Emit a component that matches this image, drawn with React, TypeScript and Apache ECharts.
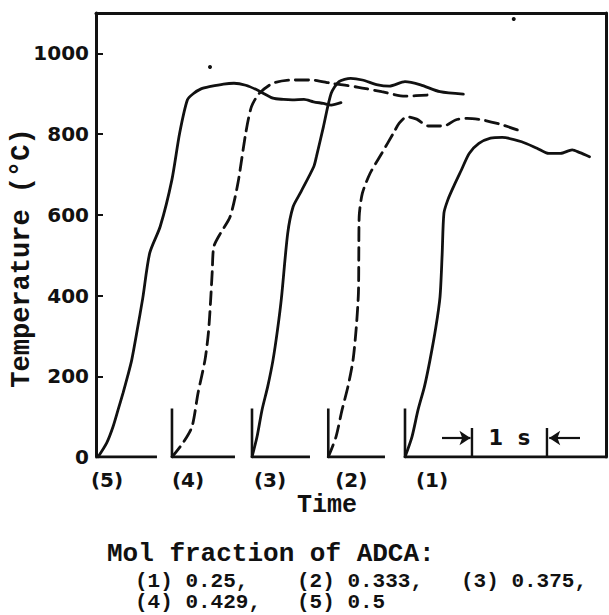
import React, { useEffect, useRef } from "react";
import * as echarts from "echarts";

// ---------- data ----------
const Y_TICKS = [0, 200, 400, 600, 800, 1000];
const CURVE_LABELS = ["(1)", "(2)", "(3)", "(4)", "(5)"];
const MOL_FRACTIONS = ["0.25", "0.333", "0.375", "0.429", "0.5"];
// time (s) where each trace starts, on the shared time axis
const CURVE_ORIGINS = [4.12, 3.097, 2.08, 1.013, 0.027];
// end of each trace's own zero line (s)
const BASELINE_ENDS = [6.8, 3.853, 2.853, 1.853, 0.813];
const START_MARK_TEMP = 120; // height of the start marker (°C)
const SCALE_BAR_START = 5.013; // s
const SCALE_BAR_LENGTH = 1; // s  ("1 s")
const SCALE_BAR_TICK_TEMP = 72;
const SCALE_BAR_ARROW_TEMP = 47;
// two specks of ink on the original figure
const SPECKS = [
  [1.52, 966],
  [5.57, 1085],
];

const curve1 = [
  [4.12, 0], [4.213, 50], [4.293, 116], [4.38, 175], [4.453, 240], [4.53, 320], [4.587, 397],
  [4.615, 500], [4.639, 604], [4.691, 637], [4.768, 670], [4.872, 711], [4.976, 752],
  [5.105, 777], [5.26, 790], [5.416, 792], [5.675, 781], [5.88, 765], [6.037, 752],
  [6.193, 752], [6.349, 761], [6.452, 754], [6.58, 744],
];
const curve2 = [
  [3.097, 0], [3.2, 50], [3.28, 116], [3.36, 175], [3.427, 240], [3.47, 320], [3.499, 406],
  [3.504, 500], [3.509, 595], [3.551, 653], [3.655, 703], [3.809, 752], [3.965, 802],
  [4.043, 827], [4.146, 843], [4.276, 837], [4.432, 820], [4.639, 820], [4.794, 835],
  [4.949, 839], [5.157, 835], [5.416, 823], [5.623, 810],
];
const curve3 = [
  [2.08, 0], [2.147, 50], [2.213, 116], [2.29, 175], [2.36, 240], [2.42, 315], [2.472, 393],
  [2.556, 554], [2.628, 620], [2.721, 653], [2.903, 719], [2.939, 744], [3.032, 818],
  [3.136, 901], [3.24, 930], [3.395, 938], [3.551, 934], [3.757, 922], [3.913, 919],
  [4.12, 930], [4.328, 922], [4.587, 905], [4.898, 899],
];
const curve4 = [
  [1.013, 0], [1.16, 35], [1.28, 75], [1.36, 158], [1.453, 240], [1.5, 310], [1.529, 390],
  [1.55, 460], [1.571, 521], [1.659, 554], [1.788, 595], [1.892, 678], [1.996, 802],
  [2.073, 868], [2.177, 901], [2.359, 926], [2.617, 934], [2.877, 934], [3.136, 926],
  [3.499, 916], [3.809, 905], [4.12, 894], [4.432, 897],
];
const curve5 = [
  [0.027, 0], [0.143, 35], [0.227, 75], [0.293, 116], [0.36, 158], [0.42, 199], [0.476, 240],
  [0.55, 315], [0.623, 393], [0.716, 505], [0.856, 571], [1.011, 686], [1.115, 802],
  [1.219, 885], [1.296, 900], [1.4, 912], [1.529, 918], [1.7, 924], [1.84, 926],
  [1.996, 921], [2.151, 909], [2.359, 889], [2.5, 886], [2.617, 885], [2.773, 886],
  [2.9, 880], [3.032, 876], [3.136, 872], [3.266, 878],
];
const CURVES = [curve1, curve2, curve3, curve4, curve5];

// ---------- styles ----------
const INK = "#111";
const DASHED = [false, true, false, true, false];
const LABEL_DX = [27, 23, 18, 16, 9];
const MONO = "'Liberation Mono', 'DejaVu Sans Mono', monospace";
const SANS = "'DejaVu Sans', sans-serif";

export default function App() {
  const ref = useRef<HTMLDivElement>(null);

  useEffect(() => {
    document.body.style.margin = "0";
    const chart = echarts.init(ref.current!, null, { renderer: "svg" });

    const curveSeries = CURVES.map((data, i) => ({
      type: "line",
      name: CURVE_LABELS[i],
      data,
      symbol: "none",
      smooth: 0.25,
      lineStyle: {
        color: INK,
        width: 2.8,
        type: DASHED[i] ? [13, 7] : "solid",
        cap: "round",
      },
      z: 3,
    }));

    const baselineSeries = CURVE_ORIGINS.map((o, i) => ({
      type: "line",
      data: [
        [o, 0],
        [BASELINE_ENDS[i], 0],
      ],
      symbol: "none",
      lineStyle: { color: INK, width: 3 },
      z: 2,
    }));

    const startMarkSeries = CURVE_ORIGINS.slice(0, 4).map((o) => ({
      type: "line",
      data: [
        [o, 0],
        [o, START_MARK_TEMP],
      ],
      symbol: "none",
      lineStyle: { color: INK, width: 2.6 },
      z: 2,
    }));

    const sbEnd = SCALE_BAR_START + SCALE_BAR_LENGTH;
    const scaleTicks = [SCALE_BAR_START, sbEnd].map((t) => ({
      type: "line",
      data: [
        [t, 0],
        [t, SCALE_BAR_TICK_TEMP],
      ],
      symbol: "none",
      lineStyle: { color: INK, width: 2.4 },
      z: 2,
    }));

    const scaleBarSeries = {
      type: "scatter",
      data: [[(SCALE_BAR_START + sbEnd) / 2, SCALE_BAR_ARROW_TEMP]],
      symbolSize: 0,
      itemStyle: { opacity: 1 },
      label: {
        show: true,
        position: "inside",
        formatter: `${SCALE_BAR_LENGTH}  s`,
        color: INK,
        opacity: 1,
        fontFamily: SANS,
        fontWeight: "bold",
        fontSize: 21,
      },
      markLine: {
        silent: true,
        symbol: ["none", "arrow"],
        symbolSize: [11, 11],
        lineStyle: { color: INK, width: 2.2, type: "solid", opacity: 1 },
        label: { show: false },
        data: [
          [
            { coord: [SCALE_BAR_START - 0.4, SCALE_BAR_ARROW_TEMP] },
            { coord: [SCALE_BAR_START - 0.02, SCALE_BAR_ARROW_TEMP] },
          ],
          [
            { coord: [sbEnd + 0.44, SCALE_BAR_ARROW_TEMP] },
            { coord: [sbEnd + 0.03, SCALE_BAR_ARROW_TEMP] },
          ],
        ],
      },
      z: 4,
    };

    const curveLabelSeries = {
      type: "scatter",
      data: CURVE_ORIGINS.map((o, i) => ({
        value: [o, 0],
        label: { offset: [LABEL_DX[i], 23], formatter: CURVE_LABELS[i] },
      })),
      symbolSize: 0,
      itemStyle: { opacity: 1 },
      label: {
        show: true,
        position: "inside",
        color: INK,
        opacity: 1,
        fontFamily: SANS,
        fontWeight: "bold",
        fontSize: 20,
      },
      z: 4,
    };

    const speckSeries = {
      type: "scatter",
      data: SPECKS,
      symbolSize: 4,
      itemStyle: { color: INK, opacity: 1 },
      z: 4,
    };

    const molItems = CURVE_LABELS.map(
      (l, i) => `${l} ${MOL_FRACTIONS[i]}${i < CURVE_LABELS.length - 1 ? "," : ""}`
    );
    const molPos = [
      [135, 581],
      [297, 581],
      [461, 581],
      [135, 602],
      [297, 602],
    ];

    const textStyle = (size: number) => ({
      fill: INK,
      fontFamily: MONO,
      fontWeight: "bold",
      fontSize: size,
      lineHeight: size,
    });

    const option = {
      animation: false,
      grid: { left: 96, right: 3, top: 13, bottom: 158 },
      xAxis: [
        {
          type: "value",
          min: 0,
          max: 6.8,
          position: "bottom",
          axisLine: { show: false },
          axisTick: { show: false },
          axisLabel: { show: false },
          splitLine: { show: false },
        },
        {
          type: "value",
          min: 0,
          max: 6.8,
          position: "top",
          axisLine: { show: true, onZero: false, lineStyle: { color: INK, width: 3 } },
          axisTick: { show: false },
          axisLabel: { show: false },
          splitLine: { show: false },
        },
      ],
      yAxis: [
        {
          type: "value",
          min: 0,
          max: 1100,
          interval: 200,
          position: "left",
          axisLine: { show: true, onZero: false, lineStyle: { color: INK, width: 3 } },
          axisTick: {
            show: true,
            inside: true,
            length: 7,
            customValues: Y_TICKS,
            lineStyle: { color: INK, width: 2 },
          },
          axisLabel: {
            customValues: Y_TICKS,
            formatter: (v: number) => (Y_TICKS.includes(v) ? String(v) : ""),
            color: INK,
            fontFamily: SANS,
            fontWeight: "bold",
            fontSize: 20,
            margin: 7,
          },
          splitLine: { show: false },
        },
        {
          type: "value",
          min: 0,
          max: 1100,
          position: "right",
          axisLine: { show: true, onZero: false, lineStyle: { color: INK, width: 3 } },
          axisTick: { show: false },
          axisLabel: { show: false },
          splitLine: { show: false },
        },
      ],
      series: [
        ...baselineSeries,
        ...startMarkSeries,
        ...scaleTicks,
        ...curveSeries,
        scaleBarSeries,
        curveLabelSeries,
        speckSeries,
      ],
      graphic: [
        {
          type: "text",
          x: 22,
          y: 258,
          rotation: Math.PI / 2,
          style: {
            text: "Temperature (°C)",
            align: "center",
            verticalAlign: "middle",
            ...textStyle(27),
          },
        },
        {
          type: "text",
          x: 327,
          y: 505,
          style: { text: "Time", align: "center", verticalAlign: "middle", ...textStyle(25) },
        },
        {
          type: "text",
          x: 107,
          y: 554,
          style: {
            text: "Mol fraction of ADCA:",
            align: "left",
            verticalAlign: "middle",
            ...textStyle(26),
          },
        },
        ...molItems.map((t, i) => ({
          type: "text",
          x: molPos[i][0],
          y: molPos[i][1],
          style: { text: t, align: "left", verticalAlign: "middle", ...textStyle(21) },
        })),
      ],
    };

    chart.setOption(option as any);
    return () => chart.dispose();
  }, []);

  return <div ref={ref} style={{ width: 609, height: 615 }} />;
}
